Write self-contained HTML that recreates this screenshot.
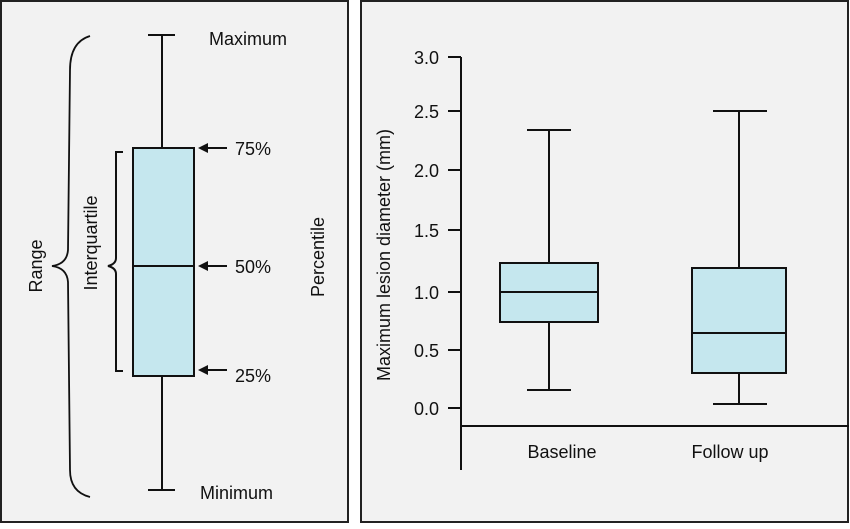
<!DOCTYPE html>
<html><head><style>
html,body{margin:0;padding:0;background:#fff;}
svg{display:block;}
text{font-family:"Liberation Sans",sans-serif;fill:#111;}
</style></head><body>
<svg width="850" height="529" viewBox="0 0 850 529">
<rect x="1" y="1" width="347" height="521" fill="#f2f2f2" stroke="#222" stroke-width="2"/>
<rect x="361" y="1" width="487" height="521" fill="#f2f2f2" stroke="#222" stroke-width="2"/>
<g stroke="#111" stroke-width="2" fill="none">
<line x1="162" y1="35" x2="162" y2="148"/>
<line x1="162" y1="376" x2="162" y2="490"/>
<line x1="148" y1="35" x2="175" y2="35"/>
<line x1="148" y1="490" x2="175" y2="490"/>
<rect x="133" y="148" width="61" height="228" fill="#c5e7ee"/>
<line x1="133" y1="266" x2="194" y2="266"/>
<path d="M123,152 L116,152 L116,258 Q116,264 108,266 Q116,268 116,274 L116,371 L123,371"/>
<path d="M90,36 Q70,42 70,70 L68,250 Q67,264 52,266 Q67,268 68,282 L70,470 Q70,492 90,497" stroke-width="1.8"/>
<line x1="227" y1="148" x2="204" y2="148"/>
<line x1="227" y1="266" x2="204" y2="266"/>
<line x1="227" y1="370" x2="204" y2="370"/>
<line x1="461" y1="57" x2="461" y2="470"/>
<line x1="461" y1="426" x2="849" y2="426"/>
<line x1="448" y1="57" x2="461" y2="57"/>
<line x1="448" y1="111" x2="461" y2="111"/>
<line x1="448" y1="170" x2="461" y2="170"/>
<line x1="448" y1="230" x2="461" y2="230"/>
<line x1="448" y1="292" x2="461" y2="292"/>
<line x1="448" y1="350" x2="461" y2="350"/>
<line x1="448" y1="408" x2="461" y2="408"/>
<line x1="549" y1="130" x2="549" y2="263"/>
<line x1="549" y1="322" x2="549" y2="390"/>
<line x1="527" y1="130" x2="571" y2="130"/>
<line x1="527" y1="390" x2="571" y2="390"/>
<rect x="500" y="263" width="98" height="59" fill="#c5e7ee"/>
<line x1="500" y1="292" x2="598" y2="292"/>
<line x1="739" y1="111" x2="739" y2="268"/>
<line x1="739" y1="373" x2="739" y2="404"/>
<line x1="713" y1="111" x2="767" y2="111"/>
<line x1="713" y1="404" x2="767" y2="404"/>
<rect x="692" y="268" width="94" height="105" fill="#c5e7ee"/>
<line x1="692" y1="333" x2="786" y2="333"/>
</g>
<g fill="#111">
<polygon points="198,148 208,143 208,153"/>
<polygon points="198,266 208,261 208,271"/>
<polygon points="198,370 208,365 208,375"/>
</g>
<g font-size="18">
<text x="209" y="45">Maximum</text>
<text x="200" y="499">Minimum</text>
<text x="235" y="155">75%</text>
<text x="235" y="273">50%</text>
<text x="235" y="382">25%</text>
<text transform="translate(42,266) rotate(-90)" text-anchor="middle">Range</text>
<text transform="translate(97,243) rotate(-90)" text-anchor="middle">Interquartile</text>
<text transform="translate(324,257) rotate(-90)" text-anchor="middle">Percentile</text>
<text x="562" y="458" text-anchor="middle">Baseline</text>
<text x="730" y="458" text-anchor="middle">Follow up</text>
<text transform="translate(390,255) rotate(-90)" text-anchor="middle">Maximum lesion diameter (mm)</text>
</g>
<g font-size="18" text-anchor="end">
<text x="439" y="64">3.0</text>
<text x="439" y="118">2.5</text>
<text x="439" y="177">2.0</text>
<text x="439" y="237">1.5</text>
<text x="439" y="299">1.0</text>
<text x="439" y="357">0.5</text>
<text x="439" y="415">0.0</text>
</g>
</svg>
</body></html>
